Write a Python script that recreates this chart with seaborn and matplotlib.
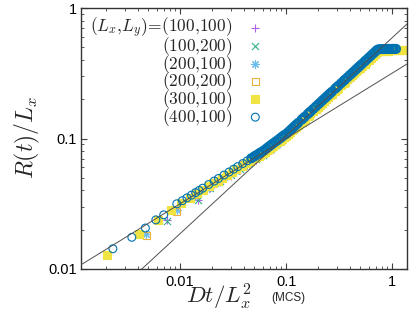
import numpy as np
import matplotlib
matplotlib.use("Agg")
import matplotlib.pyplot as plt
import matplotlib.ticker as mticker
import seaborn as sns

# --- data ---
# x = D t / Lx^2, same sampling for series sharing Lx
x100 = [0.0075, 0.0149, 0.019, 0.024, 0.03, 0.037, 0.045, 0.052, 0.06, 0.07, 0.08,
        0.09, 0.1, 0.11, 0.125, 0.14, 0.16, 0.18, 0.2, 0.22, 0.25, 0.28, 0.31, 0.35,
        0.39, 0.43, 0.48, 0.53, 0.59, 0.65, 0.71, 0.76, 0.8]
y_100_100 = [0.0236, 0.034, 0.0414, 0.0465, 0.052, 0.0578, 0.0637, 0.0685, 0.0736,
             0.0812, 0.0875, 0.0965, 0.1035, 0.1112, 0.1224, 0.1332, 0.1472, 0.1608,
             0.1741, 0.187, 0.2058, 0.224, 0.2418, 0.2648, 0.2872, 0.3091, 0.3357,
             0.3615, 0.3919, 0.4213, 0.4501, 0.468, 0.47]
y_100_200 = [0.0232, 0.0338, 0.0420, 0.0470, 0.0528, 0.0586, 0.0646, 0.0695, 0.0745,
             0.0818, 0.0885, 0.0960, 0.1045, 0.1125, 0.1238, 0.1347, 0.1490, 0.1628,
             0.1762, 0.1893, 0.2083, 0.2268, 0.2448, 0.2680, 0.2907, 0.3129, 0.3398,
             0.3660, 0.3967, 0.4265, 0.4555, 0.4720, 0.4740]

x200 = [0.0048, 0.0093, 0.0139, 0.0186, 0.023, 0.028, 0.034, 0.04, 0.047, 0.055, 0.063,
        0.072, 0.082, 0.093, 0.105, 0.118, 0.133, 0.15, 0.17, 0.19, 0.215, 0.24, 0.27,
        0.3, 0.34, 0.38, 0.42, 0.47, 0.52, 0.58, 0.64, 0.7, 0.76, 0.83, 0.9, 0.97]
y_200_100 = [0.0185, 0.0284, 0.0362, 0.0418, 0.0465, 0.0513, 0.0566, 0.0613, 0.0665,
             0.0719, 0.077, 0.0832, 0.0905, 0.0985, 0.1075, 0.1172, 0.1282, 0.1403,
             0.1541, 0.1675, 0.1838, 0.1996, 0.218, 0.2359, 0.2591, 0.2817, 0.3037,
             0.3304, 0.3564, 0.3868, 0.4165, 0.4454, 0.474, 0.478, 0.479, 0.48]
y_200_200 = [0.0180, 0.0275, 0.0373, 0.0431, 0.048, 0.0529, 0.0583, 0.0632, 0.0686,
             0.0742, 0.0794, 0.0855, 0.0925, 0.1005, 0.1095, 0.1188, 0.13, 0.1423,
             0.1563, 0.1699, 0.1864, 0.2025, 0.2212, 0.2393, 0.2629, 0.2858, 0.308,
             0.3352, 0.3616, 0.3924, 0.4225, 0.4519, 0.476, 0.479, 0.48, 0.48]

x300 = [0.00206, 0.00413, 0.0062, 0.0082, 0.0103, 0.0124, 0.0144, 0.0165, 0.0186,
        0.0206, 0.0227, 0.025, 0.028, 0.031, 0.034, 0.038, 0.042, 0.046,
        0.050, 0.052, 0.055, 0.057, 0.060, 0.063, 0.066, 0.069, 0.072, 0.075, 0.079,
        0.083, 0.087, 0.091, 0.095, 0.100, 0.105, 0.110, 0.115, 0.120, 0.125, 0.130,
        0.140, 0.145, 0.150, 0.160, 0.165, 0.170, 0.180, 0.190, 0.200, 0.210, 0.220,
        0.230, 0.240, 0.250, 0.260, 0.270, 0.290, 0.300, 0.310, 0.330, 0.350, 0.360,
        0.380, 0.400, 0.420, 0.440, 0.460, 0.480, 0.500, 0.520, 0.550, 0.570, 0.600,
        0.630, 0.660, 0.690, 0.720, 0.750, 0.790, 0.830, 0.870, 0.910, 0.950, 1.000,
        1.040, 1.090, 1.140, 1.190, 1.250, 1.310, 1.370]
y_300_100 = [0.0129, 0.0187, 0.0238, 0.0283, 0.0318, 0.0352, 0.0379, 0.0406, 0.0431,
             0.0454, 0.0476, 0.05, 0.0529, 0.0557, 0.0583, 0.0616, 0.0648, 0.0678,
             0.0703, 0.0717, 0.0737, 0.0751, 0.0770, 0.0789, 0.0815, 0.0838, 0.0860,
             0.0882, 0.0910, 0.0935, 0.0964, 0.0991, 0.1019, 0.1044, 0.1083, 0.1121,
             0.1160, 0.1198, 0.1234, 0.1271, 0.1344, 0.1380, 0.1416, 0.1485, 0.1520,
             0.1555, 0.1622, 0.1690, 0.1756, 0.1821, 0.1887, 0.1950, 0.2013, 0.2076,
             0.2137, 0.2199, 0.2320, 0.2380, 0.2440, 0.2556, 0.2672, 0.2729, 0.2842,
             0.2953, 0.3063, 0.3172, 0.3280, 0.3386, 0.3491, 0.3596, 0.3750, 0.3852,
             0.4003, 0.4152, 0.4300, 0.4445, 0.4593, 0.468, 0.471, 0.472, 0.472, 0.472,
             0.473, 0.473, 0.473, 0.473, 0.473, 0.473, 0.473, 0.473, 0.473]

x400 = [0.00232, 0.0035, 0.0047, 0.0059, 0.0070, 0.0093, 0.0105, 0.0116, 0.0128,
        0.0140, 0.0151, 0.0163, 0.0186, 0.021, 0.023, 0.026, 0.029, 0.032, 0.035,
        0.039, 0.043, 0.047,
        0.050, 0.052, 0.055, 0.057, 0.060, 0.063, 0.066, 0.069, 0.072, 0.075, 0.079,
        0.083, 0.087, 0.091, 0.095, 0.100, 0.105, 0.110, 0.115, 0.120, 0.125, 0.130,
        0.140, 0.145, 0.150, 0.160, 0.165, 0.170, 0.180, 0.190, 0.200, 0.210, 0.220,
        0.230, 0.240, 0.250, 0.260, 0.270, 0.290, 0.300, 0.310, 0.330, 0.350, 0.360,
        0.380, 0.400, 0.420, 0.440, 0.460, 0.480, 0.500, 0.520, 0.550, 0.570, 0.600,
        0.630, 0.660, 0.690, 0.720, 0.750, 0.790, 0.830, 0.870, 0.910, 0.950, 1.000,
        1.040, 1.090]
y_400_100 = [0.0143, 0.0175, 0.0206, 0.0238, 0.0260, 0.0316, 0.0334, 0.0351, 0.0368,
             0.0385, 0.0400, 0.0416, 0.0444, 0.0472, 0.0494, 0.0525, 0.0554, 0.0582,
             0.0609, 0.0643, 0.0675, 0.0706,
             0.0728, 0.0743, 0.0764, 0.0778, 0.0798, 0.0818, 0.0845, 0.0868, 0.0891,
             0.0914, 0.0943, 0.0969, 0.0999, 0.1027, 0.1056, 0.1082, 0.1122, 0.1162,
             0.1202, 0.1241, 0.1279, 0.1317, 0.1393, 0.1430, 0.1467, 0.1539, 0.1575,
             0.1611, 0.1681, 0.1751, 0.1820, 0.1887, 0.1955, 0.2021, 0.2086, 0.2151,
             0.2215, 0.2279, 0.2404, 0.2466, 0.2528, 0.2649, 0.2769, 0.2828, 0.2945,
             0.3060, 0.3174, 0.3287, 0.3399, 0.3509, 0.3618, 0.3726, 0.3886, 0.3992,
             0.4148, 0.4303, 0.4456, 0.4606, 0.4760, 0.4830, 0.4845, 0.4850, 0.4855,
             0.4855, 0.4860, 0.4860, 0.4860, 0.4860]

# guide lines y = amp * (x / 0.1) ** slope
slopes = [0.5, 0.75]
amps = [0.1, 0.105]

xlim = (0.00116, 1.385)
ylim = (0.01, 1.0)

sns.set_theme(style="ticks")
plt.rcParams["font.family"] = ["Liberation Sans", "DejaVu Sans"]
plt.rcParams["mathtext.fontset"] = "cm"

fig = plt.figure(figsize=(4.16, 3.32), dpi=100)
ax = fig.add_axes([81 / 416, 63 / 332, 326 / 416, 261 / 332])
ax.set_xscale("log")
ax.set_yscale("log")

# thin outlines where points are sparse, heavier where they pile up
lw400 = np.where(np.array(x400) < 0.045, 0.8, 1.6)

# (x, y, label, marker, colour, size, filled, line width)
series = [
    (x100, y_100_100, "$(L_x{,}L_y)\\!=\\!(100{,}100)$", "+", "#b060e8", 34, True, 0.8),
    (x100, y_100_200, "$(100{,}200)$", "x", "#35b08a", 26, True, 0.8),
    (x200, y_200_100, "$(200{,}100)$", (8, 2, 0), "#6cbcec", 30, True, 0.8),
    (x200, y_200_200, "$(200{,}200)$", "s", "#ebb040", 26, False, 0.8),
    (x300, y_300_100, "$(300{,}100)$", "s", "#f0e442", 28, True, 0.8),
    (x400, y_400_100, "$(400{,}100)$", "o", "#0072b2", 32, False, lw400),
]
for xs, ys, lab, mk, col, size, filled, lw in series:
    kw = dict(marker=mk, s=size, color=col, edgecolor=col, linewidth=lw,
              label=lab, zorder=2)
    if not filled:
        kw["facecolors"] = "none"
    sns.scatterplot(x=xs, y=ys, ax=ax, **kw)

xl = np.array(xlim)
for sl, a in zip(slopes, amps):
    sns.lineplot(x=xl, y=a * (xl / 0.1) ** sl, ax=ax, color="#505050",
                 linewidth=0.7, zorder=3, legend=False)

ax.set_xlim(*xlim)
ax.set_ylim(*ylim)

fmt = mticker.FuncFormatter(lambda v, p: f"{v:g}")
ax.xaxis.set_major_locator(mticker.FixedLocator([0.01, 0.1, 1]))
ax.yaxis.set_major_locator(mticker.FixedLocator([0.01, 0.1, 1]))
ax.xaxis.set_major_formatter(fmt)
ax.yaxis.set_major_formatter(fmt)
ax.xaxis.set_minor_locator(mticker.LogLocator(base=10, subs=np.arange(2, 10)))
ax.yaxis.set_minor_locator(mticker.LogLocator(base=10, subs=np.arange(2, 10)))
ax.xaxis.set_minor_formatter(mticker.NullFormatter())
ax.yaxis.set_minor_formatter(mticker.NullFormatter())

ax.tick_params(which="both", direction="in", top=True, right=True,
               color="#404040", labelsize=10.5, labelcolor="black")
ax.tick_params(which="major", length=4.5, width=0.8)
ax.tick_params(which="minor", length=2.3, width=0.6)
ax.tick_params(axis="x", pad=4.5)
ax.tick_params(axis="y", pad=3)
for sp in ax.spines.values():
    sp.set_linewidth(1.0)
    sp.set_color("#333333")

ax.set_xlabel("")
ax.set_ylabel("")
fig.text(27 / 416, 1 - 137 / 332, r"$R(t)/L_x$", rotation=90, ha="center",
         va="center", fontsize=17)
fig.text(186 / 416, 1 - 304 / 332, r"$Dt/L_x^2$", ha="left", va="baseline",
         fontsize=16.5)
fig.text(271 / 416, 1 - 301 / 332, "(MCS)", ha="left", va="baseline", fontsize=8.5)

leg = ax.legend(loc="upper right", bbox_to_anchor=(264 / 416, 1 - 16 / 332),
                bbox_transform=fig.transFigure, markerfirst=False, frameon=False,
                fontsize=12.5, handlelength=1.0, handletextpad=0.8,
                labelspacing=-0.29, borderpad=0, borderaxespad=0, scatterpoints=1)
for h in leg.legend_handles:
    h.set_linewidth(0.8)

fig.savefig("out.png", dpi=100)
